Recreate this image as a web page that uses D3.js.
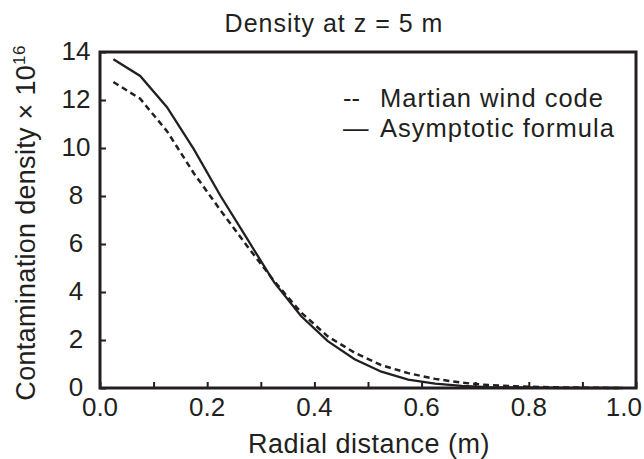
<!DOCTYPE html>
<html>
<head>
<meta charset="utf-8">
<script src="https://cdn.jsdelivr.net/npm/d3@7/dist/d3.min.js"></script>
<style>
  html, body { margin: 0; padding: 0; background: #fff; }
  svg { display: block; font-family: "Liberation Sans", Arial, Helvetica, sans-serif; }
</style>
</head>
<body>
<svg id="chart" width="644" height="459"></svg>
<script>
// ---- data ----
const radialDistance = [0.025, 0.075, 0.125, 0.175, 0.225, 0.275, 0.325, 0.375, 0.425, 0.475,
                        0.525, 0.575, 0.625, 0.675, 0.725, 0.775, 0.825, 0.875, 0.925, 0.975];
const martianWindCode = [12.75, 12.05, 10.7, 8.95, 7.4, 5.9, 4.45, 3.15, 2.15, 1.47,
                         0.95, 0.62, 0.38, 0.22, 0.12, 0.07, 0.04, 0.02, 0.01, 0.0];
const asymptoticFormula = [13.7, 13.0, 11.7, 9.95, 8.0, 6.2, 4.4, 3.0, 1.95, 1.2,
                           0.68, 0.35, 0.18, 0.09, 0.04, 0.02, 0.01, 0.0, 0.0, 0.0];
const xTickValues = [0, 0.1, 0.2, 0.3, 0.4, 0.5, 0.6, 0.7, 0.8, 0.9, 1.0];
const xTickLabels = [0, 0.2, 0.4, 0.6, 0.8, 1.0];
const yTickValues = [0, 2, 4, 6, 8, 10, 12, 14];
const titleText = "Density at z = 5 m";
const xLabelText = "Radial distance (m)";
const yLabelText = "Contamination density \u00d7 10";
const yLabelSup = "16";
const legendItems = ["Martian wind code", "Asymptotic formula"];
const legendSymbols = ["--", "\u2014"];

(function () {
  const svg = d3.select("#chart");
  const W = 644;
  const mL = 100, mR = 636, mT = 52, mB = 388;
  const x = d3.scaleLinear().domain([0, 1]).range([mL, mR]);
  const y = d3.scaleLinear().domain([0, 14]).range([mB, mT]);
  const ink = "#231f20";

  // curves
  const line = d3.line().x((d) => x(d[0])).y((d) => y(d[1]));
  svg.append("path")
    .datum(radialDistance.map((r, i) => [r, martianWindCode[i]]))
    .attr("d", line).attr("fill", "none").attr("stroke", ink)
    .attr("stroke-width", 2.5).attr("stroke-dasharray", "6,4");
  svg.append("path")
    .datum(radialDistance.map((r, i) => [r, asymptoticFormula[i]]))
    .attr("d", line).attr("fill", "none").attr("stroke", ink)
    .attr("stroke-width", 2.3);

  // axes (ticks inward)
  const xAxis = svg.append("g").attr("transform", `translate(0,${mB})`)
    .call(d3.axisTop(x).tickValues(xTickValues).tickSize(6).tickFormat(""));
  const yAxis = svg.append("g").attr("transform", `translate(${mL},0)`)
    .call(d3.axisRight(y).tickValues(yTickValues).tickSize(6).tickFormat(""));
  [xAxis, yAxis].forEach((g) => {
    g.select(".domain").remove();
    g.selectAll(".tick line").attr("stroke", ink).attr("stroke-width", 2);
  });

  // frame
  svg.append("rect").attr("x", mL).attr("y", mT)
    .attr("width", mR - mL).attr("height", mB - mT)
    .attr("fill", "none").attr("stroke", ink).attr("stroke-width", 3);

  // tick labels (kept inside the picture at the right edge)
  svg.append("g").selectAll("text").data(xTickLabels).join("text")
    .attr("y", 416).attr("font-size", 26).attr("fill", ink)
    .text((d) => d.toFixed(1))
    .each(function (d) {
      const w = this.getComputedTextLength();
      const cx = Math.min(x(d), W - 2 - w / 2);
      d3.select(this).attr("x", cx).attr("text-anchor", "middle");
    });
  svg.append("g").selectAll("text").data(yTickValues).join("text")
    .attr("x", 76).attr("y", (d) => y(d)).attr("dy", "0.3em")
    .attr("text-anchor", "middle").attr("font-size", 26).attr("fill", ink)
    .text((d) => d);

  // title
  svg.append("text").attr("x", 334).attr("y", 32).attr("text-anchor", "middle")
    .attr("font-size", 25).attr("letter-spacing", 1).attr("fill", ink).text(titleText);

  // x label
  svg.append("text").attr("x", 369).attr("y", 453).attr("text-anchor", "middle")
    .attr("font-size", 27).attr("letter-spacing", 0.5).attr("fill", ink).text(xLabelText);

  // y label
  const yl = svg.append("text")
    .attr("transform", "translate(35,223) rotate(-90)")
    .attr("text-anchor", "middle").attr("font-size", 27).attr("letter-spacing", 0.3).attr("fill", ink);
  yl.append("tspan").text(yLabelText);
  yl.append("tspan").attr("dy", -10).attr("font-size", 17).text(yLabelSup);

  // legend
  const lg = svg.append("g");
  legendItems.forEach((t, i) => {
    const by = 107 + i * 30;
    lg.append("text").attr("x", 343).attr("y", by).attr("font-size", 25.5).attr("fill", ink)
      .text(legendSymbols[i]);
    lg.append("text").attr("x", 380).attr("y", by).attr("font-size", 25.5)
      .attr("letter-spacing", 1).attr("fill", ink).text(t);
  });
})();
</script>
</body>
</html>
